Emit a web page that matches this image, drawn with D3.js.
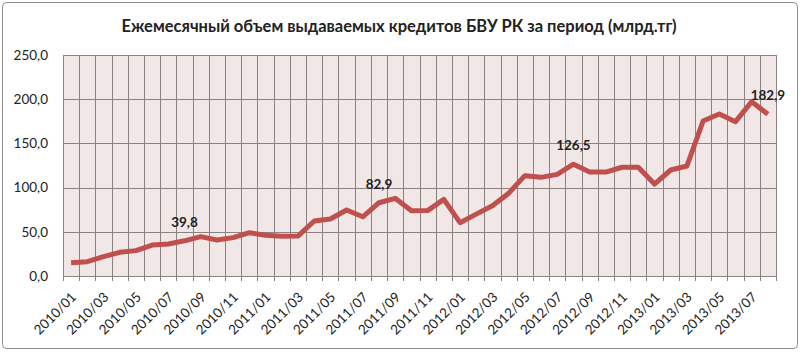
<!DOCTYPE html>
<html>
<head>
<meta charset="utf-8">
<script src="https://cdn.jsdelivr.net/npm/d3@7"></script>
<style>
  body { margin: 0; background: #fff; }
  text { font-family: Lato, "Open Sans", sans-serif; fill: #222; }
</style>
</head>
<body>
<div id="chart"></div>
<script>
// Monthly categories 2010/01 .. 2013/08
const months = [
  "2010/01","2010/02","2010/03","2010/04","2010/05","2010/06","2010/07","2010/08","2010/09","2010/10","2010/11","2010/12",
  "2011/01","2011/02","2011/03","2011/04","2011/05","2011/06","2011/07","2011/08","2011/09","2011/10","2011/11","2011/12",
  "2012/01","2012/02","2012/03","2012/04","2012/05","2012/06","2012/07","2012/08","2012/09","2012/10","2012/11","2012/12",
  "2013/01","2013/02","2013/03","2013/04","2013/05","2013/06","2013/07","2013/08"
];

// Loans issued, bln tenge
const values = [
  15.0, 16.2, 21.9, 26.8, 28.7, 35.0, 36.2, 39.8, 44.5, 40.7, 43.4, 49.0,
  46.0, 44.9, 45.2, 62.2, 64.5, 74.7, 67.0, 82.9, 87.9, 73.9, 74.0, 86.7,
  60.3, 70.0, 79.5, 93.5, 113.5, 111.6, 115.0, 126.5, 117.6, 117.6, 123.0, 123.0,
  104.0, 119.9, 124.4, 175.3, 183.3, 174.6, 197.2, 182.9
];

// Points that carry a data label
const labelled = ["2010/08", "2011/08", "2012/08", "2013/08"];

const yTicks = [0, 50, 100, 150, 200, 250];

const W = 800, H = 352;
const margin = { top: 55, right: 24, bottom: 76, left: 63 };
const width = W - margin.left - margin.right,
      height = H - margin.top - margin.bottom;

const fmt = v => d3.format(".1f")(v).replace(".", ",");

function init() {
  const svg = d3.select("#chart")
    .append("svg")
    .attr("width", W)
    .attr("height", H);

  // Outer chart border
  svg.append("rect")
    .attr("x", 2.5).attr("y", 2.5)
    .attr("width", W - 5).attr("height", H - 6)
    .attr("rx", 4)
    .attr("fill", "#fff")
    .attr("stroke", "#8c8c8c");

  // Title
  svg.append("text")
    .attr("x", 399)
    .attr("y", 32)
    .attr("text-anchor", "middle")
    .style("font-size", "16.5px")
    .style("font-weight", "bold")
    .text("Ежемесячный объем выдаваемых кредитов БВУ РК за период (млрд.тг)");

  const g = svg.append("g")
    .attr("transform", `translate(${margin.left},${margin.top})`);

  const x = d3.scaleBand().domain(months).range([0, width]);
  const y = d3.scaleLinear().domain([0, 250]).range([height, 0]);

  // Plot area
  g.append("rect")
    .attr("width", width).attr("height", height)
    .attr("fill", "#f2e7e7");

  // Horizontal gridlines
  g.selectAll("line.hgrid")
    .data(yTicks)
    .enter()
    .append("line")
    .attr("class", "hgrid")
    .attr("x1", 0).attr("x2", width)
    .attr("y1", d => Math.round(y(d)) + 0.5)
    .attr("y2", d => Math.round(y(d)) + 0.5)
    .attr("stroke", "#8c8282");

  // Vertical gridlines at category boundaries
  g.selectAll("line.vgrid")
    .data(months.concat(["end"]))
    .enter()
    .append("line")
    .attr("class", "vgrid")
    .attr("x1", (d, i) => Math.round(i * x.step()) + 0.5)
    .attr("x2", (d, i) => Math.round(i * x.step()) + 0.5)
    .attr("y1", 0).attr("y2", height + 5)
    .attr("stroke", "#8c8282");

  // Y axis
  const yAxis = d3.axisLeft(y)
    .tickValues(yTicks)
    .tickSize(0)
    .tickPadding(15)
    .tickFormat(fmt);

  g.append("g")
    .call(yAxis)
    .call(s => s.select(".domain").remove())
    .selectAll("text")
    .style("font-size", "13.5px")
    .style("font-family", "Lato, sans-serif")
    .attr("fill", "#222");

  // X axis labels (every other month)
  const xAxis = d3.axisBottom(x)
    .tickValues(months.filter((d, i) => i % 2 === 0))
    .tickSize(0);

  g.append("g")
    .attr("transform", `translate(0,${height})`)
    .call(xAxis)
    .call(s => s.select(".domain").remove())
    .selectAll("text")
    .style("font-size", "13.5px")
    .style("font-family", "Lato, sans-serif")
    .attr("fill", "#222")
    .attr("text-anchor", "end")
    .attr("dy", 0)
    .attr("y", 0)
    .attr("transform", "translate(6,22) rotate(-45)");

  // Line
  const line = d3.line()
    .x((d, i) => x(months[i]) + x.bandwidth() / 2)
    .y(d => y(d));

  g.append("path")
    .datum(values)
    .attr("fill", "none")
    .attr("stroke", "#c0504d")
    .attr("stroke-width", 5)
    .attr("stroke-linejoin", "round")
    .attr("d", line);

  // Data labels
  const lab = months
    .map((m, i) => ({ m, v: values[i] }))
    .filter(d => labelled.includes(d.m));

  g.selectAll("text.label")
    .data(lab)
    .enter()
    .append("text")
    .attr("class", "label")
    .attr("x", d => x(d.m) + x.bandwidth() / 2)
    .attr("y", d => y(d.v) - 14)
    .attr("text-anchor", "middle")
    .style("font-size", "13.5px")
    .style("font-weight", "bold")
    .text(d => fmt(d.v));
}

window.onload = init;
</script>
</body>
</html>
